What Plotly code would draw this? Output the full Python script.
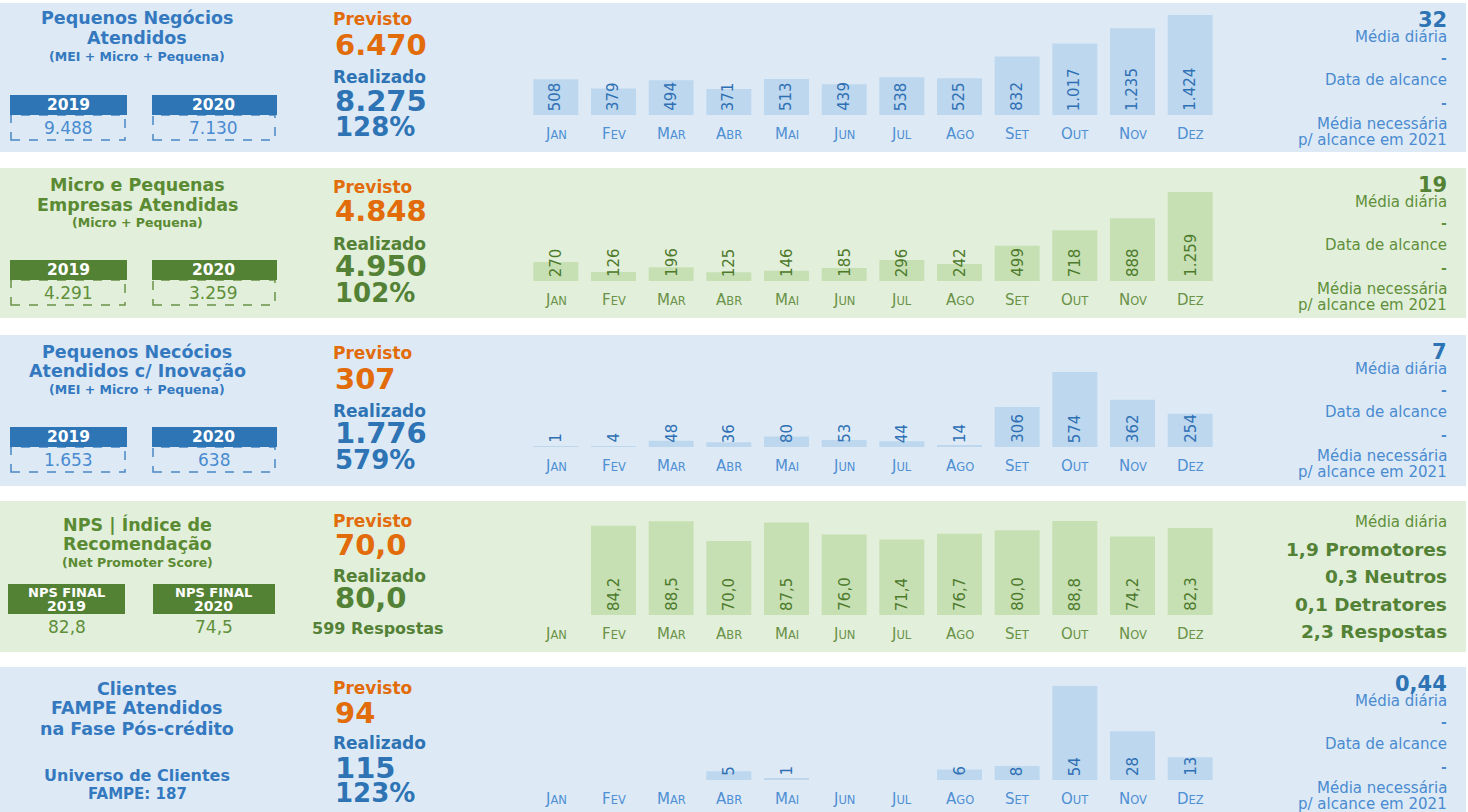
import plotly.graph_objects as go

W, H = 1468, 812
FONT = "DejaVu Sans"

# ---------------- data ----------------
months = ["Jan", "Fev", "Mar", "Abr", "Mai", "Jun", "Jul", "Ago", "Set", "Out", "Nov", "Dez"]

pn_vals = [508, 379, 494, 371, 513, 439, 538, 525, 832, 1017, 1235, 1424]
mpe_vals = [270, 126, 196, 125, 146, 185, 296, 242, 499, 718, 888, 1259]
inov_vals = [1, 4, 48, 36, 80, 53, 44, 14, 306, 574, 362, 254]
nps_vals = [None, 84.2, 88.5, 70.0, 87.5, 76.0, 71.4, 76.7, 80.0, 88.8, 74.2, 82.3]
fampe_vals = [None, None, None, 5, 1, None, None, 6, 8, 54, 28, 13]

panel_titles = [
    ["Pequenos Negócios", "Atendidos"],
    ["Micro e Pequenas", "Empresas Atendidas"],
    ["Pequenos Necócios", "Atendidos c/ Inovação"],
    ["NPS | Índice de", "Recomendação"],
    ["Clientes", "FAMPE Atendidos", "na Fase Pós-crédito"],
]
panel_subtitles = ["(MEI + Micro + Pequena)", "(Micro + Pequena)", "(MEI + Micro + Pequena)",
                   "(Net Promoter Score)", None]
hist_2019 = ["9.488", "4.291", "1.653", "82,8", None]
hist_2020 = ["7.130", "3.259", "638", "74,5", None]
previsto = ["6.470", "4.848", "307", "70,0", "94"]
realizado = ["8.275", "4.950", "1.776", "80,0", "115"]
percent = ["128%", "102%", "579%", "599 Respostas", "123%"]
media_diaria = ["32", "19", "7", None, "0,44"]
nps_daily = ["1,9 Promotores", "0,3 Neutros", "0,1 Detratores", "2,3 Respostas"]
fampe_universe = ["Universo de Clientes", "FAMPE: 187"]

series = [pn_vals, mpe_vals, inov_vals, nps_vals, fampe_vals]
kinds = ["int", "int", "int", "dec", "int"]

# ---------------- styling / layout ----------------
BLUE = dict(bg="#ddeaf6", bar="#bdd7ee", title="#3479bf", num="#2e74b5", light="#4a8bd0",
            box="#2e75b6", lab="#2f70b4", month="#4f8fd3", dash="#4a86c5")
GREEN = dict(bg="#e2efda", bar="#c6e0b4", title="#5a8a32", num="#538135", light="#5f8f3a",
             box="#548235", lab="#4e7a2c", month="#6a9248", dash="#6a9248")
ORANGE = "#e26b0a"
themes = [BLUE, GREEN, BLUE, GREEN, BLUE]

# panel geometry in pixels: (top, bottom, baseline, top of tallest bar)
panels = [(3, 152, 115, 15), (168, 318, 281, 192), (335, 486, 447, 372),
          (501, 652, 615, 521), (667, 812, 780, 686)]
title_offsets = [[15, 35, 53], [17, 37, 54], [17, 36, 54], [23, 43, 61], [22, 41, 62]]
mid_offsets = [[16, 42, 74, 98, 124], [19, 43, 76, 98, 125], [18, 44, 76, 98, 125],
               [20, 44, 75, 97, 127], [21, 46, 76, 101, 126]]
right_offsets = [17, 34, 55, 77, 100, 121, 137]

X0, X1 = 527, 1219  # bar area


def px(x):
    return x / W


def py(y):
    return 1 - y / H


def fmt(v, kind):
    if v is None:
        return None
    if kind == "dec":
        return f"{v:.1f}".replace(".", ",")
    return f"{int(v):,}".replace(",", ".")


def small_caps(m, size):
    return m[0].upper() + f"<span style='font-size:{size}px'>" + m[1:].upper() + "</span>"


fig = go.Figure()
shapes = []
annotations = []
layout_axes = {}


def txt(x, y, text, size, color, bold=False, xanchor="center", yanchor="middle"):
    if bold:
        text = f"<b>{text}</b>"
    annotations.append(dict(x=px(x), y=py(y), xref="paper", yref="paper", text=text,
                            showarrow=False, xanchor=xanchor, yanchor=yanchor, borderpad=0,
                            font=dict(family=FONT, size=size, color=color)))


for i, (top, bottom, base, maxtop) in enumerate(panels):
    th = themes[i]
    vals = series[i]
    n = "" if i == 0 else str(i + 1)

    # background
    shapes.append(dict(type="rect", xref="paper", yref="paper", x0=0, x1=px(1466),
                       y0=py(bottom), y1=py(top), fillcolor=th["bg"], line=dict(width=0),
                       layer="below"))

    # bars
    vmax = max(v for v in vals if v is not None)
    ytop = vmax * (base - top) / (base - maxtop)
    fig.add_trace(go.Bar(x=months, y=vals, marker=dict(color=th["bar"], line=dict(width=0)),
                         xaxis="x" + n, yaxis="y" + n, hoverinfo="x+y", showlegend=False))
    layout_axes["xaxis" + n] = dict(domain=[px(X0), px(X1)], anchor="y" + n, showticklabels=False,
                                    showgrid=False, zeroline=False, showline=False,
                                    categoryorder="array", categoryarray=months, fixedrange=True)
    layout_axes["yaxis" + n] = dict(domain=[py(base), py(top)], anchor="x" + n, range=[0, ytop],
                                    showticklabels=False, showgrid=False, zeroline=False,
                                    showline=False, fixedrange=True)

    for m, v in zip(months, vals):
        annotations.append(dict(x=m, y=0, xref="x" + n, yref="y" + n,
                                text=small_caps(m, 11.5), showarrow=False, yanchor="top",
                                yshift=-9, borderpad=0,
                                font=dict(family=FONT, size=15, color=th["month"])))
        label = fmt(v, kinds[i])
        if label is not None:
            annotations.append(dict(x=m, y=0, xref="x" + n, yref="y" + n, text=label,
                                    showarrow=False, yanchor="bottom", xanchor="center",
                                    yshift=3, textangle=-90, borderpad=0,
                                    font=dict(family=FONT, size=15, color=th["lab"])))

    # left column titles
    lines = panel_titles[i]
    offs = title_offsets[i]
    for j, line in enumerate(lines):
        txt(137, top + offs[j], line, 17.5, th["title"], bold=True)
    if panel_subtitles[i]:
        txt(137, top + offs[2], panel_subtitles[i], 12.5, th["title"], bold=True)

    # historical boxes
    if i < 3:
        for (x0, x1), lab, val in [((11, 125), "2019", hist_2019[i]), ((153, 275), "2020", hist_2020[i])]:
            shapes.append(dict(type="rect", xref="paper", yref="paper", x0=px(x0), x1=px(x1),
                               y0=py(top + 137), y1=py(top + 112), fillcolor="rgba(0,0,0,0)",
                               line=dict(color=th["dash"], width=1.5, dash="dash")))
            shapes.append(dict(type="rect", xref="paper", yref="paper", x0=px(x0 - 1), x1=px(x1 + 2),
                               y0=py(top + 112), y1=py(top + 92), fillcolor=th["box"],
                               line=dict(width=0)))
            txt((x0 + x1) / 2, top + 102, lab, 15.5, "white", bold=True)
            txt((x0 + x1) / 2, top + 125, val, 17, th["light"])
    elif i == 3:
        for (x0, x1), lab, val in [((8, 125), "2019", hist_2019[i]),
                                   ((153, 275), "2020", hist_2020[i])]:
            shapes.append(dict(type="rect", xref="paper", yref="paper", x0=px(x0), x1=px(x1),
                               y0=py(top + 113), y1=py(top + 83), fillcolor=th["box"],
                               line=dict(width=0)))
            txt((x0 + x1) / 2, top + 91, "NPS FINAL", 13, "white", bold=True)
            txt((x0 + x1) / 2, top + 105, lab, 14, "white", bold=True)
            txt((x0 + x1) / 2, top + 126, val, 17, th["light"])
    else:
        txt(137, top + 108, fampe_universe[0], 16, th["title"], bold=True)
        txt(137, top + 127, fampe_universe[1], 15, th["title"], bold=True)

    # middle column
    mo = mid_offsets[i]
    txt(332, top + mo[0], "Previsto", 17, ORANGE, bold=True, xanchor="left")
    txt(334, top + mo[1], previsto[i], 29, ORANGE, bold=True, xanchor="left")
    txt(332, top + mo[2], "Realizado", 17, th["num"], bold=True, xanchor="left")
    txt(334, top + mo[3], realizado[i], 29, th["num"], bold=True, xanchor="left")
    if i == 3:
        txt(311, top + mo[4], percent[i], 16, th["num"], bold=True, xanchor="left")
    else:
        txt(334, top + mo[4], percent[i], 26, th["num"], bold=True, xanchor="left")

    # right column
    RX = 1448
    if i == 3:
        txt(RX, top + 21, "Média diária", 15, th["light"], xanchor="right")
        for k, s in enumerate(nps_daily):
            txt(RX, top + 48 + k * 27.5, s, 18.5, th["num"], bold=True, xanchor="right")
    else:
        ro = right_offsets
        txt(RX, top + ro[0], media_diaria[i], 21, th["num"], bold=True, xanchor="right")
        txt(RX, top + ro[1], "Média diária", 15, th["light"], xanchor="right")
        txt(RX, top + ro[2], "-", 14, th["light"], bold=True, xanchor="right")
        txt(RX, top + ro[3], "Data de alcance", 15, th["light"], xanchor="right")
        txt(RX, top + ro[4], "-", 14, th["light"], bold=True, xanchor="right")
        txt(RX, top + ro[5], "Média necessária", 15, th["light"], xanchor="right")
        txt(RX, top + ro[6], "p/ alcance em 2021", 15, th["light"], xanchor="right")

fig.update_layout(width=W, height=H, margin=dict(l=0, r=0, t=0, b=0),
                  paper_bgcolor="white", plot_bgcolor="rgba(0,0,0,0)",
                  bargap=0.22, shapes=shapes, annotations=annotations,
                  showlegend=False, **layout_axes)

fig.write_html("out.html", config={"displayModeBar": False},
               post_script="document.body.style.margin='0';document.body.style.overflow='hidden';")
